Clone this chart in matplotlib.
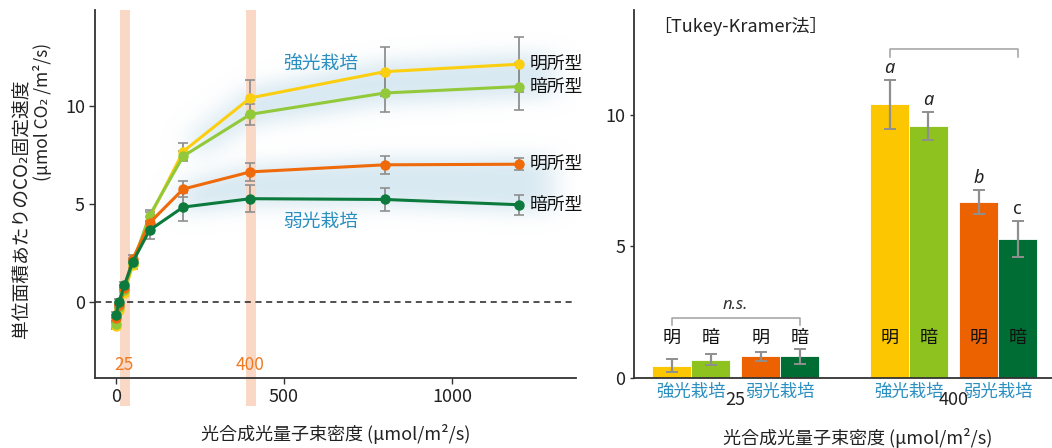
import numpy as np
import matplotlib
matplotlib.use("Agg")
import matplotlib.pyplot as plt

plt.rcParams['font.family'] = ['Noto Sans CJK JP', 'DejaVu Sans']

# ---------------- data ----------------
ppfd = [0, 10, 25, 50, 100, 200, 400, 800, 1200]
high_light = [-1.25, -0.42, 0.46, 1.87, 4.30, 7.67, 10.41, 11.75, 12.13]
high_dark = [-1.14, -0.29, 0.60, 1.95, 4.40, 7.43, 9.57, 10.66, 10.99]
low_light = [-0.85, -0.15, 0.70, 2.17, 4.02, 5.75, 6.63, 6.99, 7.02]
low_dark = [-0.68, 0.00, 0.84, 2.03, 3.65, 4.83, 5.26, 5.22, 4.95]
high_light_err = [0.15, 0.15, 0.15, 0.2, 0.3, 0.45, 0.90, 1.25, 1.40]
high_dark_err = [0.15, 0.15, 0.15, 0.2, 0.3, 0.25, 0.55, 0.95, 1.20]
low_light_err = [0.15, 0.15, 0.15, 0.2, 0.3, 0.40, 0.45, 0.45, 0.30]
low_dark_err = [0.15, 0.15, 0.15, 0.2, 0.45, 0.70, 0.70, 0.60, 0.50]

bar_groups = ['25', '400']
bar_vals_25 = [0.46, 0.69, 0.81, 0.81]
bar_err_25 = [0.25, 0.21, 0.16, 0.27]
bar_vals_400 = [10.41, 9.58, 6.69, 5.28]
bar_err_400 = [0.93, 0.53, 0.46, 0.70]
sig_400 = ['a', 'a', 'b', 'c']
type_labels = ['明', '暗', '明', '暗']
cult_labels = ['強光栽培', '弱光栽培']

c_yel = '#fcc600'
c_lg = '#8dc21f'
c_or = '#ec6100'
c_dg = '#006d35'
line_cols = ['#fbcf10', '#92c93a', '#ef6a0a', '#0b7a3c']
bar_cols = [c_yel, c_lg, c_or, c_dg]
blue = '#2a8fc0'
errc = '#8f8f8f'
ital = ['Noto Sans', 'DejaVu Sans']

fig = plt.figure(figsize=(10.52, 4.48), dpi=100)

# ---------------- left: light response curves ----------------
ax = fig.add_axes([0.0907, 0.1563, 0.4566, 0.8214])
xlo, xhi, ylo, yhi = -61, 1368, -3.9, 14.9
ax.set_xlim(xlo, xhi)
ax.set_ylim(ylo, yhi)

# soft blue glow around the two groups of curves
gx = np.linspace(xlo, xhi, 500)
gy = np.linspace(ylo, yhi, 400)
X, Y = np.meshgrid(gx, gy)
def band(upper, lower, x0, x1, m):
    up = np.interp(gx, ppfd, upper) + m
    lo = np.interp(gx, ppfd, lower) - m
    inside = (Y <= up[None, :]) & (Y >= lo[None, :]) & (X >= x0) & (X <= x1)
    return inside.astype(float)
mask = band(high_light, high_dark, 230, 1300, 0.55) + band(low_light, low_dark, 190, 1300, 0.35)
mask = np.clip(mask, 0, 1)
def gauss(n):
    k = np.exp(-0.5 * (np.arange(-3 * n, 3 * n + 1) / n) ** 2)
    return k / k.sum()
kx, ky = gauss(14), gauss(10)
mask = np.apply_along_axis(lambda r: np.convolve(r, kx, mode='same'), 1, mask)
mask = np.apply_along_axis(lambda c: np.convolve(c, ky, mode='same'), 0, mask)
rgba = np.zeros(mask.shape + (4,))
rgba[..., 0], rgba[..., 1], rgba[..., 2] = 0.80, 0.89, 0.93
rgba[..., 3] = np.clip(mask, 0, 1) * 0.75
ax.imshow(rgba, extent=(xlo, xhi, ylo, yhi), origin='lower', aspect='auto', zorder=0.5,
          interpolation='bilinear')

for c in [25, 400]:
    ax.axvspan(c - 13, c + 17, ymin=-0.075, ymax=1, color='#f9d8c6', zorder=0.6,
               clip_on=False, lw=0)

ax.axhline(0, color='#222222', ls=(0, (4, 3)), lw=1.1, zorder=1)

series = [(high_light, high_light_err), (high_dark, high_dark_err),
          (low_light, low_light_err), (low_dark, low_dark_err)]
for (vals, err), col in zip(series, line_cols):
    ax.errorbar(ppfd, vals, yerr=err, fmt='none', ecolor=errc, elinewidth=1.3,
                capsize=3.5, capthick=1.2, zorder=2)
for (vals, err), col in zip(series, line_cols):
    ax.plot(ppfd, vals, color=col, lw=2.2, marker='o', ms=6.5, zorder=3)

for vals, lab in zip([high_light, high_dark, low_light, low_dark],
                     ['明所型', '暗所型', '明所型', '暗所型']):
    ax.text(1232, vals[-1], lab, fontsize=12.8, va='center', ha='left', color='#111111')
ax.text(608, 12.2, '強光栽培', color=blue, fontsize=13.5, ha='center', va='center')
ax.text(608, 4.1, '弱光栽培', color=blue, fontsize=13.5, ha='center', va='center')
ax.text(25, -3.25, '25', color='#f07a22', fontsize=12.5, ha='center', va='center')
ax.text(400, -3.25, '400', color='#f07a22', fontsize=12.5, ha='center', va='center')

ax.set_xticks([0, 500, 1000])
ax.set_yticks([0, 5, 10])
ax.tick_params(labelsize=13, length=4, width=1, color='#333333', labelcolor='#222222')
for s in ['top', 'right']:
    ax.spines[s].set_visible(False)
for s in ['left', 'bottom']:
    ax.spines[s].set_color('#333333')
    ax.spines[s].set_linewidth(1.3)
ax.set_xlabel('光合成光量子束密度 (μmol/m²/s)', fontsize=13, color='#222222', labelpad=13)
fig.text(0.0205, 0.535, '単位面積あたりのCO₂固定速度', rotation=90, fontsize=13.5,
         ha='center', va='center', color='#222222')
fig.text(0.0405, 0.75, '(μmol CO₂ /m²/s)', rotation=90, fontsize=12.5,
         ha='center', va='center', color='#222222')

# ---------------- right: bar chart ----------------
bx = fig.add_axes([0.603, 0.1569, 0.3968, 0.8208])
bx.set_xlim(-0.96, 9.77)
bx.set_ylim(0, 14)
pos25 = np.array([0, 1, 2.29, 3.29])
pos400 = pos25 + 5.6
for pos, vals, err in [(pos25, bar_vals_25, bar_err_25), (pos400, bar_vals_400, bar_err_400)]:
    bx.bar(pos, vals, width=1.0, color=bar_cols, edgecolor='#ffffff', linewidth=0.6, zorder=2)
    bx.errorbar(pos, vals, yerr=err, fmt='none', ecolor=errc, elinewidth=1.6,
                capsize=4, capthick=1.4, zorder=3)
    for p, t in zip(pos, type_labels):
        bx.text(p, 1.5, t, fontsize=13, ha='center', va='center', color='#111111', zorder=4)
    for k, lab in enumerate(cult_labels):
        bx.text((pos[2 * k] + pos[2 * k + 1]) / 2, -0.55, lab, fontsize=12.5, color=blue,
                ha='center', va='center')
for pos, g in zip([pos25, pos400], bar_groups):
    bx.text((pos[1] + pos[2]) / 2, -0.85, g, fontsize=13, ha='center', va='center',
            color='#222222')
for p, v, e, s in zip(pos400, bar_vals_400, bar_err_400, sig_400):
    style = 'normal' if s == 'c' else 'italic'
    bx.text(p, v + e + 0.45, s, fontsize=13, style=style, family=ital, ha='center',
            va='center', color='#222222')
# brackets
bx.plot([pos400[0], pos400[0], pos400[3], pos400[3]], [12.22, 12.5, 12.5, 12.22],
        color='#a0a0a0', lw=1.1)
bx.plot([pos25[0], pos25[0], pos25[3], pos25[3]], [2.0, 2.26, 2.26, 2.0],
        color='#a0a0a0', lw=1.1)
bx.text((pos25[0] + pos25[3]) / 2, 2.75, 'n.s.', style='italic', family=ital, fontsize=12,
        ha='center', va='center', color='#333333')
bx.text(0.045, 0.955, '［Tukey-Kramer法］', transform=bx.transAxes, fontsize=13,
        ha='left', va='center', color='#222222')

bx.set_xticks([])
bx.set_yticks([0, 5, 10])
bx.tick_params(labelsize=13, length=3, width=1, color='#333333', labelcolor='#222222')
for s in ['top', 'right']:
    bx.spines[s].set_visible(False)
for s in ['left', 'bottom']:
    bx.spines[s].set_color('#333333')
    bx.spines[s].set_linewidth(1.3)
bx.set_xlabel('光合成光量子束密度 (μmol/m²/s)', fontsize=13, color='#222222')
bx.xaxis.set_label_coords(0.535, -0.136)
bx.xaxis.label.set_va('top')

fig.savefig('out.png', dpi=100)
